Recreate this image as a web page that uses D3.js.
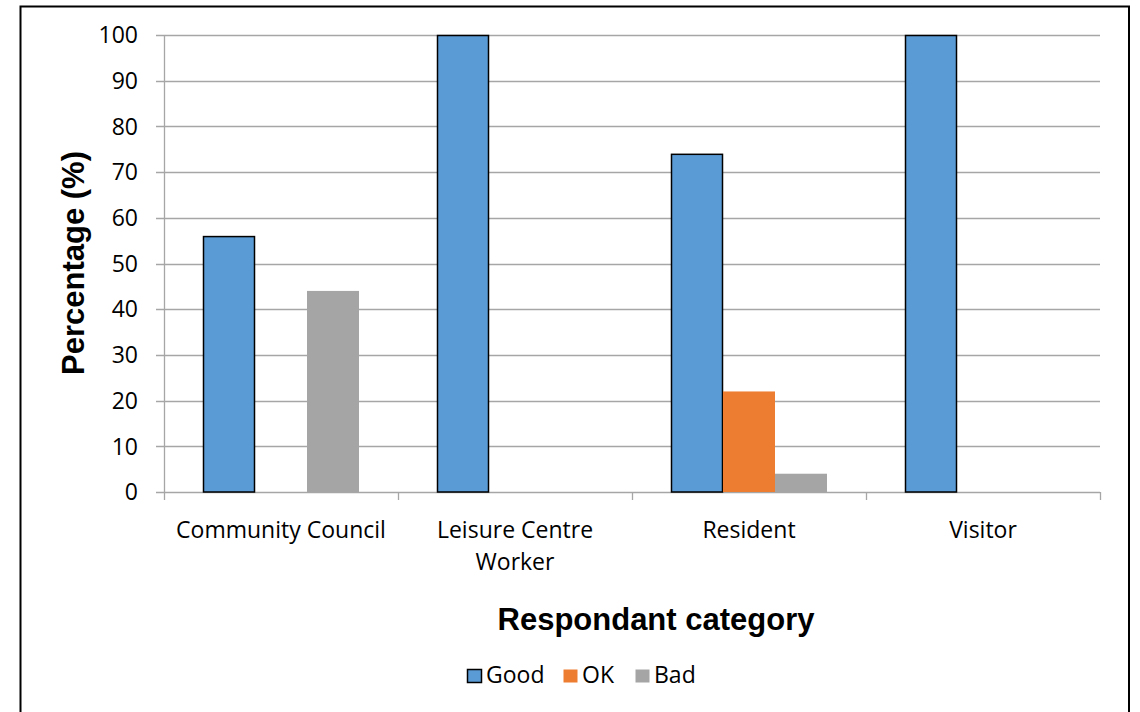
<!DOCTYPE html>
<html><head><meta charset="utf-8">
<script src="https://cdn.jsdelivr.net/npm/d3@7"></script>
<style>body{margin:0;background:#fff}</style>
</head><body>
<svg id="c" width="1140" height="712"></svg>
<script>
const categories = ["Community Council", "Leisure Centre Worker", "Resident", "Visitor"];
const categoryLines = [["Community Council"], ["Leisure Centre", "Worker"], ["Resident"], ["Visitor"]];
const seriesNames = ["Good", "OK", "Bad"];
const good = [56, 100, 74, 100];
const ok = [0, 0, 22, 0];
const bad = [44, 0, 4, 0];
const yTicks = [0, 10, 20, 30, 40, 50, 60, 70, 80, 90, 100];
const colors = ["#5b9bd5", "#ed7d31", "#a5a5a5"];
const seriesValues = [good, ok, bad];

const svg = d3.select("#c");
const tickFont = "'Open Sans', Calibri, sans-serif";
const titleFont = "'Liberation Sans', Arial, sans-serif";
// outer border
svg.append("rect").attr("x", 20.5).attr("y", 6.5).attr("width", 1108.5).attr("height", 720)
  .attr("fill", "none").attr("stroke", "#000").attr("stroke-width", 2);

const L = 164, R = 1100, T = 35, B = 492;
const x0 = d3.scaleBand().domain(categories).range([L, R]).paddingInner(0).paddingOuter(0);
const inner = 156 / 234;
const x1 = d3.scaleBand().domain(seriesNames).range([0, x0.bandwidth() * inner]);
const y = d3.scaleLinear().domain([0, 100]).range([B, T]);

// gridlines
svg.append("g").selectAll("line").data(yTicks).join("line")
  .attr("x1", L - 8).attr("x2", R).attr("y1", d => Math.round(y(d)) + 0.5).attr("y2", d => Math.round(y(d)) + 0.5)
  .attr("stroke", "#a6a6a6").attr("stroke-width", 1.3);
// y axis line
svg.append("line").attr("x1", L + 0.5).attr("x2", L + 0.5).attr("y1", T).attr("y2", B)
  .attr("stroke", "#a6a6a6").attr("stroke-width", 1.3);
// x ticks
const xTickPos = categories.map(c => x0(c)).concat([R]);
svg.append("g").selectAll("line").data(xTickPos).join("line")
  .attr("x1", d => Math.round(d) + 0.5).attr("x2", d => Math.round(d) + 0.5).attr("y1", B).attr("y2", B + 8)
  .attr("stroke", "#a6a6a6").attr("stroke-width", 1.3);

// y tick labels
svg.append("g").selectAll("text").data(yTicks).join("text")
  .attr("x", 138).attr("y", d => y(d)).attr("dy", "0.36em").attr("text-anchor", "end")
  .attr("font-family", tickFont).attr("font-size", 23).attr("fill", "#000").text(d => d);

// bars
const pad = (x0.bandwidth() - x0.bandwidth() * inner) / 2;
seriesNames.forEach((s, si) => {
  const g = svg.append("g");
  g.selectAll("rect").data(categories.map((c, i) => ({c, v: seriesValues[si][i]})).filter(d => d.v > 0)).join("rect")
    .attr("x", d => x0(d.c) + pad + x1(s) + (si === 0 ? 0.5 : 0))
    .attr("y", d => y(d.v) + (si === 0 ? 0.5 : 0))
    .attr("width", x1.bandwidth() - (si === 0 ? 1 : 0))
    .attr("height", d => B - y(d.v) - (si === 0 ? 0.5 : 0))
    .attr("fill", colors[si])
    .attr("stroke", si === 0 ? "#000" : "none").attr("stroke-width", 1.5);
});

// category labels
categories.forEach((c, i) => {
  const cx = x0(c) + x0.bandwidth() / 2;
  const t = svg.append("text").attr("x", cx).attr("y", 538)
    .attr("text-anchor", "middle").attr("font-family", tickFont).attr("font-size", 23).attr("fill", "#000");
  categoryLines[i].forEach((ln, j) => t.append("tspan").attr("x", cx).attr("dy", j ? 32 : 0).text(ln));
});

// axis titles
svg.append("text").attr("x", 656).attr("y", 630).attr("text-anchor", "middle")
  .attr("font-family", titleFont).attr("font-weight", "bold").attr("font-size", 31).text("Respondant category");
svg.append("text").attr("transform", "translate(84,263) rotate(-90)").attr("text-anchor", "middle")
  .attr("font-family", titleFont).attr("font-weight", "bold").attr("font-size", 31).text("Percentage (%)");

// legend
const legX = [467, 563, 635];
seriesNames.forEach((s, i) => {
  svg.append("rect").attr("x", legX[i] + 0.5).attr("y", 669.5).attr("width", 14).attr("height", 13)
    .attr("fill", colors[i]).attr("stroke", i === 0 ? "#000" : "none").attr("stroke-width", 1.5);
  svg.append("text").attr("x", legX[i] + 19).attr("y", 683).attr("font-family", tickFont)
    .attr("font-size", 23).attr("fill", "#000").text(s);
});
</script>
</body></html>
